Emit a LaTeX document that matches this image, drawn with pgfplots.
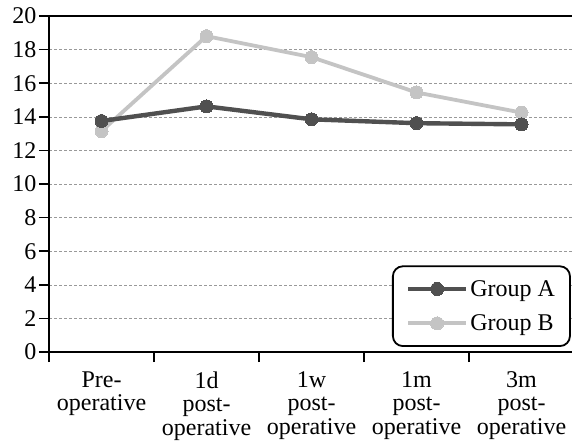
\documentclass[border=0pt]{standalone}
\usepackage{fontspec}
\setmainfont{Liberation Serif}
\usepackage{pgfplots}
\pgfplotsset{compat=1.18}
\definecolor{grpA}{HTML}{505050}
\definecolor{grpB}{HTML}{C4C4C4}
\begin{document}
\begin{tikzpicture}
\useasboundingbox (0pt,0pt) rectangle (572pt,440pt);
\begin{axis}[
  at={(49pt,88pt)}, anchor=south west,
  scale only axis, width=525pt, height=336pt,
  xmin=-0.5, xmax=4.5, ymin=0, ymax=20,
  axis x line=box, axis y line=left,
  y axis line style={-},
  axis line style={line width=1.6pt},
  ytick={0,2,...,20},
  yticklabel style={font=\fontsize{24}{25}\selectfont, xshift=1pt},
  /pgf/number format/assume math mode=true,
  tick align=outside,
  major tick length=10pt,
  tick style={line width=1.6pt, black},
  ytick pos=left,
  xtick={-0.5,0.5,1.5,2.5,3.5,4.5},
  xticklabels={},
  xtick pos=bottom,
  extra x ticks={0,1,2,3,4},
  extra x tick labels={Pre-\\operative, 1d\\post-\\operative, 1w\\post-\\operative, 1m\\post-\\operative, 3m\\post-\\operative},
  extra x tick style={major tick length=0pt, grid=none,
    xticklabel style={font=\fontsize{24}{23.5}\selectfont, align=center, anchor=north, yshift=-16pt}},
  ymajorgrids,
  grid style={densely dashed, gray!80, line width=0.6pt},
  reverse legend,
  legend cell align=left,
  legend style={at={(rel axis cs:0.994,0.015)}, anchor=south east,
    draw=black, line width=1.8pt, rounded corners=10pt, fill=white,
    font=\fontsize{24}{25}\selectfont,
    row sep=13pt, inner xsep=13pt, inner ysep=12pt,
    /tikz/every even column/.append style={column sep=14pt}},
  legend image code/.code={\draw[mark repeat=2,mark phase=2,#1] plot coordinates {(0pt,0pt) (29pt,0pt) (58pt,0pt)};},
]
\addplot[grpB, line width=3.8pt, mark=*, mark size=6.5pt, mark options={fill=grpB, draw=grpB, line width=0pt}] coordinates {(0,13.15) (1,18.8) (2,17.55) (3,15.45) (4,14.25)};
\addplot[grpA, line width=4.4pt, mark=*, mark size=6.5pt, mark options={fill=grpA, draw=grpA, line width=0pt}] coordinates {(0,13.75) (1,14.62) (2,13.85) (3,13.62) (4,13.55)};
\legend{Group B, Group A}
\end{axis}
\end{tikzpicture}
\end{document}
